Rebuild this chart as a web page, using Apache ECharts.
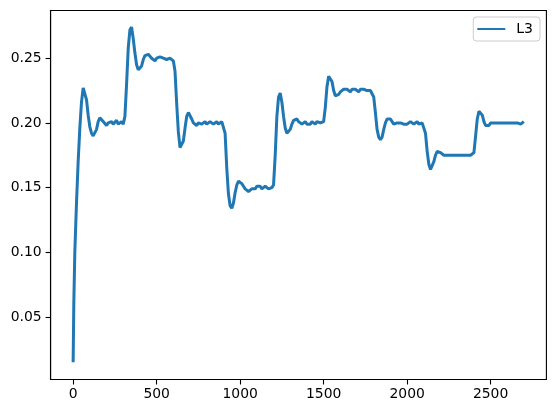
<!DOCTYPE html>
<html>
<head>
<meta charset="utf-8">
<script src="https://cdn.jsdelivr.net/npm/echarts@6/dist/echarts.min.js"></script>
<style>
html,body{margin:0;padding:0;background:#fff;}
#chart{width:556px;height:413px;}
</style>
</head>
<body>
<div id="chart"></div>
<script>
const seriesName = 'L3';
const xTicks = [0, 500, 1000, 1500, 2000, 2500];
const yTicks = [0.05, 0.10, 0.15, 0.20, 0.25];
const xs = [
  0, 4, 10, 20, 30, 40, 50, 60, 70, 80, 90, 100, 110, 120, 130, 140, 150, 160, 170, 180, 190, 200, 210, 220, 230, 240, 250, 260, 270, 280, 290, 300,
  310, 320, 330, 340, 350, 360, 370, 380, 390, 400, 410, 420, 430, 440, 450, 460, 470, 480, 490, 500, 510, 520, 530, 540, 550, 560, 570, 580, 590, 600,
  610, 620, 630, 640, 650, 660, 670, 680, 690, 700, 710, 720, 730, 740, 750, 760, 770, 780, 790, 800, 810, 820, 830, 840, 850, 860, 870, 880, 890, 900,
  910, 920, 930, 940, 950, 960, 970, 980, 990, 1000, 1010, 1020, 1030, 1040, 1050, 1060, 1070, 1080, 1090, 1100, 1110, 1120, 1130, 1140, 1150, 1160, 1170, 1180, 1190, 1200,
  1210, 1220, 1230, 1240, 1250, 1260, 1270, 1280, 1290, 1300, 1310, 1320, 1330, 1340, 1350, 1360, 1370, 1380, 1390, 1400, 1410, 1420, 1430, 1440, 1450, 1460, 1470, 1480, 1490, 1500,
  1510, 1520, 1530, 1540, 1550, 1560, 1570, 1580, 1590, 1600, 1610, 1620, 1630, 1640, 1650, 1660, 1670, 1680, 1690, 1700, 1710, 1720, 1730, 1740, 1750, 1760, 1770, 1780, 1790, 1800,
  1810, 1820, 1830, 1840, 1850, 1860, 1870, 1880, 1890, 1900, 1910, 1920, 1930, 1940, 1950, 1960, 1970, 1980, 1990, 2000, 2010, 2020, 2030, 2040, 2050, 2060, 2070, 2080, 2090, 2100,
  2110, 2120, 2130, 2140, 2150, 2160, 2170, 2180, 2190, 2200, 2210, 2220, 2230, 2240, 2250, 2260, 2270, 2280, 2290, 2300, 2310, 2320, 2330, 2340, 2350, 2360, 2370, 2380, 2390, 2400,
  2410, 2420, 2430, 2440, 2450, 2460, 2470, 2480, 2490, 2500, 2510, 2520, 2530, 2540, 2550, 2560, 2570, 2580, 2590, 2600, 2610, 2620, 2630, 2640, 2650, 2660, 2670, 2680, 2690, 2699
];
const ys = [
  0.015, 0.060, 0.100, 0.138, 0.170, 0.196, 0.216, 0.227, 0.228, 0.218, 0.206, 0.197, 0.192, 0.190, 0.191, 0.195, 0.201, 0.204, 0.203, 0.201, 0.200, 0.198, 0.200, 0.199, 0.201, 0.199, 0.200, 0.202, 0.199, 0.200, 0.201, 0.199,
  0.205, 0.230, 0.258, 0.272, 0.274, 0.265, 0.254, 0.245, 0.241, 0.241, 0.244, 0.249, 0.252, 0.253, 0.253, 0.252, 0.250, 0.249, 0.248, 0.250, 0.249, 0.251, 0.250, 0.250, 0.251, 0.249, 0.250, 0.250, 0.249, 0.248,
  0.240, 0.215, 0.193, 0.181, 0.180, 0.186, 0.196, 0.205, 0.208, 0.207, 0.203, 0.200, 0.199, 0.198, 0.200, 0.201, 0.199, 0.200, 0.201, 0.199, 0.200, 0.201, 0.200, 0.199, 0.200, 0.201, 0.199, 0.200, 0.201, 0.200,
  0.192, 0.165, 0.145, 0.136, 0.134, 0.138, 0.146, 0.152, 0.155, 0.155, 0.153, 0.151, 0.149, 0.148, 0.147, 0.148, 0.149, 0.150, 0.149, 0.151, 0.150, 0.151, 0.149, 0.150, 0.151, 0.150, 0.149, 0.150, 0.150, 0.152,
  0.175, 0.205, 0.220, 0.223, 0.216, 0.205, 0.196, 0.192, 0.192, 0.195, 0.199, 0.202, 0.203, 0.203, 0.201, 0.200, 0.199, 0.200, 0.201, 0.199, 0.200, 0.199, 0.201, 0.200, 0.199, 0.201, 0.200, 0.200, 0.201, 0.201,
  0.212, 0.228, 0.236, 0.237, 0.232, 0.225, 0.221, 0.221, 0.222, 0.224, 0.225, 0.226, 0.225, 0.226, 0.225, 0.224, 0.226, 0.225, 0.226, 0.225, 0.224, 0.226, 0.225, 0.226, 0.227, 0.225, 0.226, 0.225, 0.226, 0.220,
  0.208, 0.195, 0.189, 0.187, 0.189, 0.195, 0.200, 0.203, 0.204, 0.203, 0.201, 0.199, 0.199, 0.200, 0.199, 0.200, 0.201, 0.199, 0.200, 0.199, 0.200, 0.201, 0.200, 0.199, 0.200, 0.201, 0.199, 0.200, 0.200, 0.199,
  0.192, 0.178, 0.168, 0.164, 0.165, 0.170, 0.175, 0.178, 0.178, 0.177, 0.176, 0.175, 0.174, 0.175, 0.176, 0.175, 0.174, 0.175, 0.176, 0.175, 0.174, 0.175, 0.176, 0.175, 0.174, 0.175, 0.176, 0.175, 0.175, 0.177,
  0.190, 0.203, 0.209, 0.210, 0.206, 0.201, 0.198, 0.197, 0.198, 0.200, 0.201, 0.200, 0.199, 0.200, 0.201, 0.200, 0.199, 0.200, 0.201, 0.200, 0.199, 0.200, 0.201, 0.200, 0.199, 0.200, 0.201, 0.199, 0.200, 0.201
];

const data = xs.map((x, i) => [x, ys[i]]);
const font = 'DejaVu Sans';
const chart = echarts.init(document.getElementById('chart'), null, {renderer: 'canvas'});
chart.setOption({
  animation: false,
  backgroundColor: '#fff',
  grid: {left: 50.6, right: 9.6, top: 10.5, bottom: 33.5, show: true, borderColor: '#000', borderWidth: 1.1, containLabel: false},
  legend: {
    right: 16, top: 17,
    data: [{name: seriesName, icon: 'rect'}],
    itemWidth: 28, itemHeight: 2,
    padding: [5, 7, 5, 4],
    borderColor: '#cccccc', borderWidth: 1, borderRadius: 3,
    backgroundColor: 'rgba(255,255,255,0.8)',
    textStyle: {fontFamily: font, fontSize: 14, color: '#000', padding: [0, 0, 0, 6]}
  },
  xAxis: {
    type: 'value', min: -135, max: 2834,
    splitLine: {show: false},
    axisLine: {show: true, onZero: false, lineStyle: {color: '#000', width: 1.1}},
    axisTick: {show: true, length: 5, lineStyle: {color: '#000', width: 1.1}, customValues: xTicks},
    axisLabel: {fontFamily: font, fontSize: 13.9, color: '#000', margin: 8, customValues: xTicks, formatter: v => String(v)}
  },
  yAxis: {
    type: 'value', min: 0.0016, max: 0.2869,
    splitLine: {show: false},
    axisLine: {show: true, onZero: false, lineStyle: {color: '#000', width: 1.1}},
    axisTick: {show: true, length: 5, lineStyle: {color: '#000', width: 1.1}, customValues: yTicks},
    axisLabel: {fontFamily: font, fontSize: 13.9, color: '#000', margin: 9, customValues: yTicks, formatter: v => v.toFixed(2)}
  },
  series: [{
    name: seriesName, type: 'line', data: data,
    showSymbol: false, symbol: 'none',
    lineStyle: {color: '#1f77b4', width: 3},
    itemStyle: {color: '#1f77b4'}
  }]
});
</script>
</body>
</html>
